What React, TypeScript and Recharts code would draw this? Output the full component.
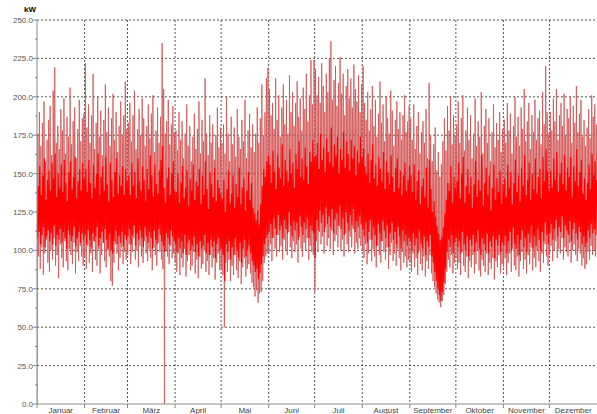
import React from "react";
import { CartesianGrid, Line, LineChart, XAxis, YAxis } from "recharts";

// daily readings (kW):
// Lo = night trough, Morn = morning level, Hi = day peak, Mid = evening level
const janHi = [176, 190, 168, 183, 197, 158, 172, 185, 194, 162, 204, 219, 170, 181, 166, 192, 178, 199, 163, 187, 174, 206, 169, 184, 193, 160, 179, 198, 171, 186, 189];
const janLo = [0, 96, 88, 102, 84, 98, 107, 92, 86, 100, 94, 108, 90, 97, 82, 104, 95, 89, 106, 93, 87, 101, 97, 91, 105, 85, 99, 93, 103, 96, 90];
const janMorn = [108, 112, 104, 110, 115, 102, 109, 113, 106, 111, 104, 116, 103, 110, 107, 114, 105, 112, 108, 101, 113, 110, 106, 109, 115, 103, 108, 112, 105, 111, 107];
const janMid = [142, 155, 136, 149, 160, 133, 146, 152, 139, 157, 147, 163, 135, 150, 141, 156, 138, 159, 144, 132, 151, 158, 140, 148, 161, 134, 145, 153, 139, 157, 147];
const febHi = [222, 180, 195, 170, 188, 215, 166, 183, 200, 174, 191, 162, 185, 208, 177, 193, 168, 186, 202, 172, 190, 164, 181, 197, 175, 188, 210, 179];
const febLo = [95, 88, 103, 92, 98, 86, 106, 94, 90, 101, 85, 97, 108, 93, 89, 100, 96, 80, 77, 92, 104, 98, 87, 95, 102, 91, 99, 94];
const febMorn = [110, 104, 113, 107, 102, 111, 106, 109, 115, 103, 108, 112, 105, 114, 107, 101, 111, 100, 98, 106, 113, 104, 109, 105, 112, 103, 110, 107];
const febMid = [153, 138, 159, 144, 134, 156, 141, 150, 163, 136, 148, 155, 139, 161, 143, 132, 157, 146, 135, 151, 160, 137, 149, 142, 155, 136, 153, 145];
const marHi = [183, 196, 171, 188, 204, 166, 179, 192, 175, 199, 186, 168, 181, 195, 173, 189, 201, 164, 178, 193, 170, 187, 235, 205, 176, 184, 198, 169, 182, 194, 177];
const marLo = [97, 104, 91, 99, 108, 94, 100, 89, 103, 96, 92, 106, 98, 93, 101, 95, 87, 102, 97, 90, 105, 99, 94, 88, 0, 100, 96, 91, 103, 95, 98];
const marMorn = [109, 114, 104, 110, 116, 103, 111, 107, 113, 108, 102, 115, 109, 105, 112, 108, 101, 113, 107, 104, 114, 110, 106, 103, 99, 111, 108, 104, 113, 109, 106];
const marMid = [149, 136, 157, 142, 151, 134, 160, 145, 139, 155, 146, 132, 153, 140, 162, 149, 135, 156, 143, 137, 152, 159, 168, 141, 131, 147, 154, 136, 150, 158, 139];
const aprHi = [178, 165, 190, 172, 184, 160, 176, 195, 168, 181, 158, 174, 189, 166, 179, 197, 163, 185, 171, 212, 176, 162, 188, 170, 182, 159, 175, 193, 167, 180];
const aprLo = [92, 86, 98, 84, 95, 89, 101, 83, 93, 97, 87, 90, 99, 85, 94, 82, 96, 88, 91, 100, 86, 93, 84, 97, 89, 95, 81, 92, 98, 87];
const aprMorn = [104, 99, 108, 101, 106, 98, 110, 97, 105, 107, 100, 103, 109, 99, 104, 96, 106, 101, 103, 110, 98, 105, 97, 107, 102, 106, 95, 104, 108, 100];
const aprMid = [138, 150, 131, 144, 155, 134, 141, 152, 129, 147, 139, 156, 133, 145, 142, 153, 130, 149, 136, 158, 140, 127, 151, 143, 135, 154, 132, 146, 141, 137];
const maiHi = [170, 182, 163, 200, 176, 158, 187, 169, 180, 161, 192, 174, 166, 185, 171, 198, 160, 178, 189, 167, 182, 164, 176, 193, 170, 186, 208, 175, 190, 212, 219];
const maiLo = [88, 84, 50, 92, 86, 94, 80, 90, 84, 97, 87, 82, 93, 78, 89, 95, 83, 88, 91, 85, 79, 76, 70, 74, 66, 72, 73, 80, 92, 96, 98];
const maiMorn = [101, 97, 80, 104, 99, 106, 94, 102, 97, 108, 100, 95, 105, 92, 101, 107, 96, 100, 103, 98, 93, 90, 86, 88, 81, 85, 91, 96, 104, 108, 110];
const maiMid = [134, 146, 125, 140, 152, 131, 137, 149, 128, 143, 135, 154, 130, 141, 147, 126, 139, 151, 133, 144, 128, 124, 120, 126, 117, 130, 142, 153, 148, 158, 162];
const junHi = [205, 188, 196, 179, 212, 185, 201, 174, 193, 208, 182, 198, 176, 214, 190, 203, 181, 196, 210, 187, 199, 178, 206, 192, 215, 184, 201, 224, 195, 224];
const junLo = [98, 104, 93, 108, 101, 96, 110, 99, 103, 94, 107, 100, 97, 112, 102, 95, 106, 99, 104, 92, 109, 101, 96, 105, 100, 108, 94, 103, 99, 97];
const junMorn = [112, 117, 108, 121, 114, 110, 123, 113, 116, 108, 120, 114, 111, 125, 116, 109, 119, 113, 118, 107, 122, 115, 110, 118, 114, 121, 108, 116, 113, 111];
const junMid = [156, 144, 165, 151, 140, 162, 154, 147, 169, 142, 159, 152, 145, 166, 150, 157, 141, 163, 153, 171, 148, 160, 146, 167, 155, 143, 164, 158, 172, 161];
const julHi = [218, 201, 213, 196, 222, 207, 190, 215, 203, 225, 236, 198, 211, 220, 194, 209, 226, 202, 215, 188, 207, 218, 199, 212, 193, 221, 205, 197, 214, 190, 208];
const julLo = [73, 106, 99, 112, 104, 109, 98, 115, 103, 108, 101, 113, 97, 106, 110, 102, 116, 100, 107, 96, 111, 104, 99, 109, 102, 114, 98, 105, 101, 108, 103];
const julMorn = [95, 120, 113, 126, 118, 123, 112, 128, 117, 122, 115, 127, 111, 120, 124, 116, 129, 114, 121, 110, 125, 118, 113, 123, 116, 127, 112, 119, 115, 122, 117];
const julMid = [162, 170, 153, 176, 159, 167, 151, 173, 164, 157, 180, 155, 169, 162, 174, 150, 166, 159, 177, 154, 171, 163, 152, 172, 160, 168, 149, 165, 157, 174, 161];
const augHi = [220, 196, 185, 203, 178, 192, 207, 181, 198, 174, 189, 210, 183, 195, 171, 200, 186, 176, 204, 191, 168, 185, 197, 179, 190, 172, 188, 201, 177, 184, 194];
const augLo = [100, 95, 104, 91, 98, 107, 93, 101, 96, 89, 103, 97, 92, 106, 99, 94, 102, 88, 97, 105, 93, 98, 90, 101, 95, 87, 99, 92, 96, 89, 94];
const augMorn = [114, 109, 118, 105, 112, 120, 107, 115, 110, 103, 117, 111, 106, 119, 113, 108, 116, 102, 111, 118, 107, 112, 104, 115, 109, 101, 113, 106, 110, 103, 108];
const augMid = [166, 155, 150, 163, 144, 159, 169, 147, 156, 142, 161, 153, 145, 164, 140, 158, 151, 143, 162, 148, 138, 154, 160, 141, 152, 136, 149, 157, 139, 146, 155];
const sepHi = [186, 172, 195, 166, 181, 190, 163, 177, 184, 170, 192, 160, 209, 175, 158, 169, 180, 152, 164, 148, 156, 171, 186, 165, 194, 178, 200, 169, 188, 175];
const sepLo = [92, 86, 98, 89, 95, 84, 100, 91, 87, 96, 83, 93, 88, 97, 85, 80, 76, 72, 68, 66, 63, 67, 71, 78, 86, 94, 89, 97, 85, 92];
const sepMorn = [106, 100, 111, 103, 108, 98, 113, 104, 101, 109, 97, 106, 102, 110, 96, 92, 86, 80, 75, 71, 67, 73, 79, 88, 99, 107, 102, 110, 98, 105];
const sepMid = [149, 138, 156, 133, 145, 152, 130, 142, 147, 135, 154, 128, 159, 140, 125, 132, 122, 116, 111, 107, 109, 115, 124, 133, 144, 139, 155, 131, 148, 141];
const oktHi = [182, 197, 170, 186, 201, 165, 178, 193, 172, 188, 160, 176, 199, 168, 184, 174, 203, 163, 181, 192, 170, 186, 158, 177, 195, 167, 183, 172, 190, 164, 179];
const oktLo = [95, 88, 92, 84, 99, 90, 86, 96, 82, 93, 89, 97, 85, 91, 100, 87, 83, 94, 90, 86, 98, 84, 92, 88, 95, 81, 93, 89, 97, 85, 91];
const oktMorn = [108, 102, 106, 98, 112, 104, 100, 109, 96, 107, 103, 110, 99, 105, 113, 101, 97, 108, 104, 100, 111, 98, 106, 102, 109, 95, 107, 103, 110, 99, 105];
const oktMid = [145, 157, 134, 150, 161, 131, 142, 153, 137, 148, 128, 143, 158, 135, 146, 139, 162, 129, 144, 154, 136, 149, 126, 141, 156, 133, 147, 138, 152, 130, 143];
const novHi = [185, 170, 196, 178, 189, 163, 181, 200, 174, 187, 168, 193, 179, 205, 171, 184, 196, 166, 188, 177, 198, 172, 186, 191, 169, 203, 182, 220, 190, 176];
const novLo = [89, 95, 84, 92, 98, 86, 101, 90, 87, 96, 83, 93, 99, 88, 94, 85, 97, 91, 102, 87, 95, 89, 100, 93, 86, 98, 92, 104, 96, 90];
const novMorn = [103, 109, 98, 106, 112, 100, 115, 104, 101, 110, 97, 107, 113, 102, 108, 99, 111, 105, 116, 101, 109, 103, 114, 107, 100, 112, 106, 118, 110, 104];
const novMid = [147, 135, 156, 141, 151, 130, 144, 159, 138, 149, 132, 154, 142, 162, 136, 146, 157, 133, 150, 140, 160, 137, 148, 153, 134, 161, 145, 166, 152, 139];
const dezHi = [190, 178, 199, 184, 205, 172, 188, 196, 181, 202, 175, 192, 186, 200, 170, 194, 183, 207, 177, 189, 198, 174, 185, 168, 180, 192, 173, 201, 187, 195, 182];
const dezLo = [97, 103, 93, 100, 106, 95, 101, 98, 108, 94, 102, 99, 96, 105, 92, 100, 104, 97, 93, 101, 98, 90, 95, 88, 91, 99, 94, 103, 97, 100, 96];
const dezMorn = [111, 117, 107, 114, 120, 109, 115, 112, 122, 108, 116, 113, 110, 119, 106, 114, 118, 111, 107, 115, 112, 104, 109, 102, 105, 113, 108, 117, 111, 114, 110];
const dezMid = [152, 141, 160, 146, 164, 138, 150, 157, 143, 162, 139, 154, 148, 161, 135, 155, 145, 166, 142, 151, 159, 137, 147, 133, 144, 156, 140, 163, 149, 158, 146];

const months = ["Januar", "Februar", "März", "April", "Mai", "Juni", "Juli", "August", "September", "Oktober", "November", "Dezember"];
const highs = [janHi, febHi, marHi, aprHi, maiHi, junHi, julHi, augHi, sepHi, oktHi, novHi, dezHi];
const lows = [janLo, febLo, marLo, aprLo, maiLo, junLo, julLo, augLo, sepLo, oktLo, novLo, dezLo];
const morns = [janMorn, febMorn, marMorn, aprMorn, maiMorn, junMorn, julMorn, augMorn, sepMorn, oktMorn, novMorn, dezMorn];
const mids = [janMid, febMid, marMid, aprMid, maiMid, junMid, julMid, augMid, sepMid, oktMid, novMid, dezMid];
const yTicks = [0, 12.5, 25, 37.5, 50, 62.5, 75, 87.5, 100, 112.5, 125, 137.5, 150, 162.5, 175, 187.5, 200, 212.5, 225, 237.5, 250];
const gridY = [25, 50, 75, 100, 125, 150, 175, 200, 225, 250];

const monthStart: number[] = [];
let acc = 0;
highs.forEach((m) => {
  monthStart.push(acc);
  acc += m.length;
});
const DAYS = acc;

// kw: every reading; core: only morning/evening readings (the dense band)
const data: { t: number; kw: number; core: number | null }[] = [];
highs.forEach((hi, m) => {
  hi.forEach((h, d) => {
    const day = monthStart[m] + d;
    data.push({ t: day + 0.1, kw: lows[m][d], core: null });
    data.push({ t: day + 0.3, kw: morns[m][d], core: morns[m][d] });
    data.push({ t: day + 0.55, kw: h, core: null });
    data.push({ t: day + 0.8, kw: mids[m][d], core: mids[m][d] });
  });
});

const W = 597;
const H = 414;
const LEFT = 37;
const BOTTOM = 404;
const pxPerDay = (W - LEFT) / DAYS;

const MonthTick = (props: any) => {
  const { x, index } = props;
  const len = highs[index]?.length ?? 0;
  return (
    <g>
      <line x1={x} x2={x} y1={BOTTOM} y2={BOTTOM + 4} stroke="#888" />
      <text x={x + (len / 2) * pxPerDay} y={BOTTOM + 9} textAnchor="middle" fontSize={8} fill="#444" fontFamily="Liberation Sans, Arial, sans-serif">
        {months[index]}
      </text>
    </g>
  );
};

const KwTick = (props: any) => {
  const { y, payload } = props;
  const major = payload.value % 25 === 0;
  return (
    <g>
      <line x1={LEFT - (major ? 4 : 2)} x2={LEFT} y1={y} y2={y} stroke="#888" />
      {major && (
        <text x={LEFT - 4} y={y + 3} textAnchor="end" fontSize={8} fill="#555" fontFamily="Liberation Sans, Arial, sans-serif">
          {payload.value.toFixed(1)}
        </text>
      )}
    </g>
  );
};

export default function App() {
  return (
    <div style={{ position: "absolute", left: 0, top: 0, width: W, height: H, background: "#fff", overflow: "hidden" }}>
      <LineChart width={W} height={H} data={data} margin={{ top: 20, right: 0, left: 0, bottom: 0 }}>
        <CartesianGrid stroke="#555" strokeDasharray="2 2" horizontalValues={gridY} verticalValues={monthStart.slice(1)} />
        <XAxis
          dataKey="t"
          type="number"
          domain={[0, DAYS]}
          ticks={monthStart}
          interval={0}
          height={10}
          stroke="#888"
          tickLine={false}
          tick={<MonthTick />}
          allowDataOverflow
        />
        <YAxis domain={[0, 250]} ticks={yTicks} interval={0} width={LEFT} stroke="#888" tickLine={false} tick={<KwTick />} />
        <Line type="linear" dataKey="kw" stroke="#d25050" strokeWidth={0.8} dot={false} isAnimationActive={false} />
        <Line type="linear" dataKey="core" stroke="#ff0000" strokeWidth={1.2} dot={false} connectNulls isAnimationActive={false} />
      </LineChart>
      <div style={{ position: "absolute", left: 24, top: 5, fontSize: 8, fontWeight: "bold", fontFamily: "Liberation Sans, Arial, sans-serif", color: "#000" }}>kW</div>
    </div>
  );
}
